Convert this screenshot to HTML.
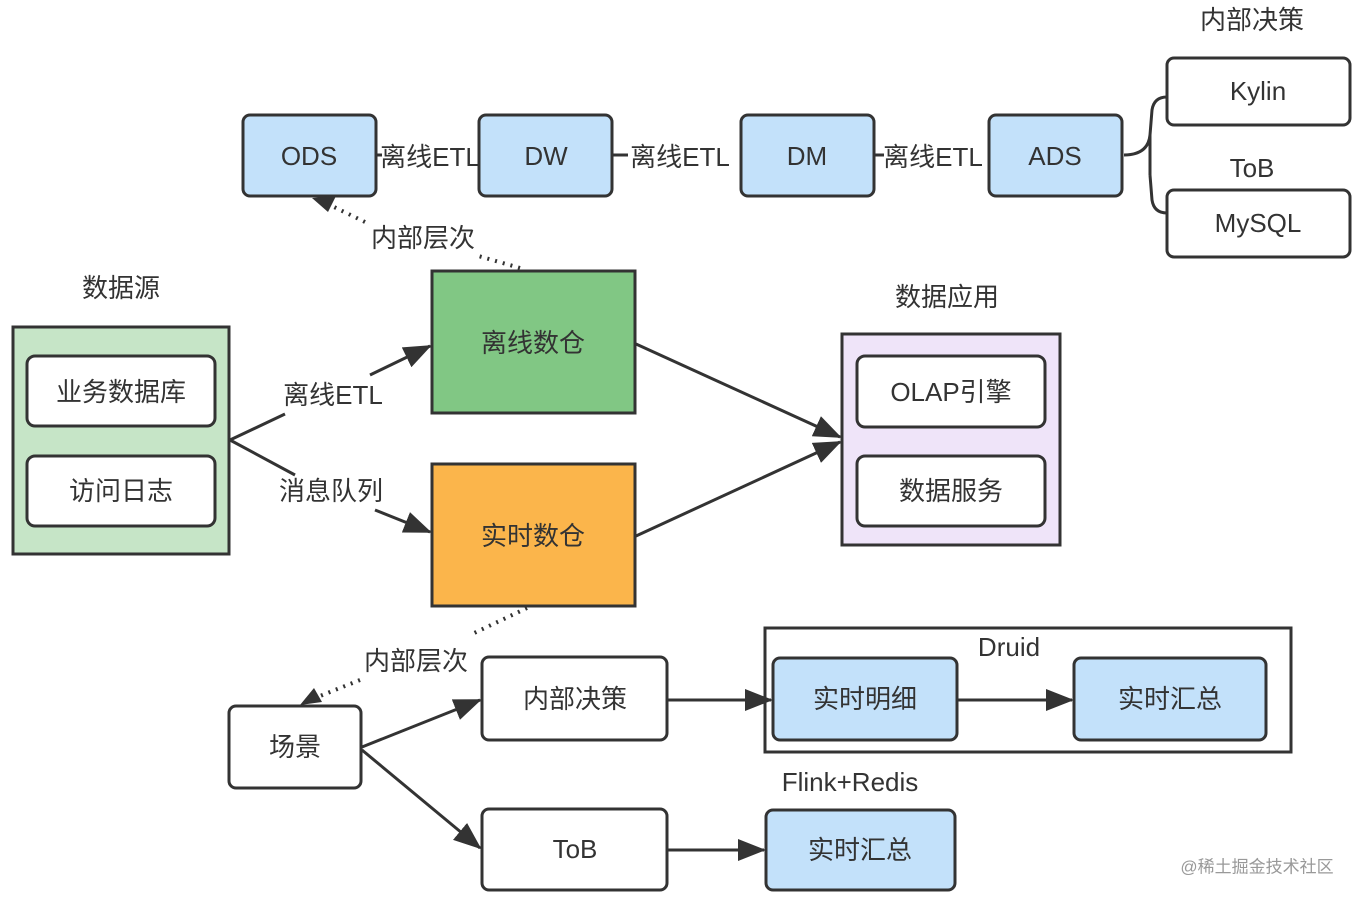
<!DOCTYPE html>
<html><head><meta charset="utf-8"><style>
html,body{margin:0;padding:0;background:#fff;}
svg text{font-family:"Liberation Sans","Noto Sans CJK SC",sans-serif;fill:#333;font-size:26px;text-anchor:middle;dominant-baseline:central;}
</style></head><body>
<svg width="1362" height="902" viewBox="0 0 1362 902" xmlns="http://www.w3.org/2000/svg">
<defs>
<marker id="a" markerWidth="10" markerHeight="10" refX="9" refY="5" orient="auto" markerUnits="userSpaceOnUse" viewBox="0 0 10 10"><path d="M0,0 L10,5 L0,10 z" fill="#333"/></marker>
<marker id="b" markerWidth="28" markerHeight="22" refX="26" refY="11" orient="auto" markerUnits="userSpaceOnUse" viewBox="0 0 28 22"><path d="M0,0 L28,11 L0,22 z" fill="#333"/></marker>
</defs>
<g stroke="#333" stroke-width="3">
<!-- top row -->
<rect x="243" y="115" width="133" height="81" rx="7" fill="#c3e1fa"/>
<rect x="479" y="115" width="133" height="81" rx="7" fill="#c3e1fa"/>
<rect x="741" y="115" width="133" height="81" rx="7" fill="#c3e1fa"/>
<rect x="989" y="115" width="133" height="81" rx="7" fill="#c3e1fa"/>
<rect x="1167" y="58" width="183" height="67" rx="7" fill="#fff"/>
<rect x="1167" y="190" width="183" height="67" rx="7" fill="#fff"/>
<path d="M1124,155 Q1148,155 1150,135 L1152,110 Q1154,97 1167,97 M1150,175 L1152,200 Q1154,213 1167,213 M1150,135 Q1150,155 1150,175" fill="none"/>
<line x1="376" y1="155" x2="382" y2="155"/>
<line x1="612" y1="155" x2="628" y2="155"/>
<line x1="874" y1="155" x2="884" y2="155"/>
<!-- sources -->
<rect x="13" y="327" width="216" height="227" fill="#c6e5c7"/>
<rect x="27" y="356" width="188" height="70" rx="8" fill="#fff"/>
<rect x="27" y="456" width="188" height="70" rx="8" fill="#fff"/>
<rect x="432" y="271" width="203" height="142" fill="#81c784"/>
<rect x="432" y="464" width="203" height="142" fill="#fbb54b"/>
<rect x="842" y="334" width="218" height="211" fill="#efe4f9"/>
<rect x="857" y="356" width="188" height="71" rx="8" fill="#fff"/>
<rect x="857" y="456" width="188" height="70" rx="8" fill="#fff"/>
<line x1="230" y1="440" x2="285" y2="414"/>
<line x1="370" y1="375" x2="430" y2="346" marker-end="url(#b)"/>
<line x1="230" y1="440" x2="295" y2="475"/>
<line x1="375" y1="510" x2="430" y2="532" marker-end="url(#b)"/>
<line x1="636" y1="344" x2="840" y2="437" marker-end="url(#b)"/>
<line x1="636" y1="536" x2="840" y2="442" marker-end="url(#b)"/>
<!-- bottom -->
<rect x="229" y="706" width="132" height="82" rx="7" fill="#fff"/>
<rect x="482" y="657" width="185" height="83" rx="7" fill="#fff"/>
<rect x="482" y="809" width="185" height="81" rx="7" fill="#fff"/>
<rect x="765" y="628" width="526" height="124" fill="#fff"/>
<rect x="773" y="658" width="184" height="82" rx="7" fill="#c3e1fa"/>
<rect x="1074" y="658" width="192" height="82" rx="7" fill="#c3e1fa"/>
<rect x="766" y="810" width="189" height="80" rx="7" fill="#c3e1fa"/>
<line x1="362" y1="747" x2="480" y2="700" marker-end="url(#b)"/>
<line x1="362" y1="750" x2="480" y2="848" marker-end="url(#b)"/>
<line x1="667" y1="700" x2="771" y2="700" marker-end="url(#b)"/>
<line x1="957" y1="700" x2="1072" y2="700" marker-end="url(#b)"/>
<line x1="667" y1="850" x2="764" y2="850" marker-end="url(#b)"/>
</g>
<g stroke="#333" stroke-width="4" stroke-dasharray="2 6" fill="none">
<line x1="520" y1="268" x2="475" y2="255"/>
<line x1="365" y1="222" x2="330" y2="205"/>
<line x1="527" y1="608" x2="470" y2="635"/>
<line x1="360" y1="680" x2="315" y2="698"/>
</g>
<path d="M312,198 L336,196 L328,212 z" fill="#333"/>
<path d="M300,705 L314,688 L322,702 z" fill="#333"/>
<text x="1252" y="20">内部决策</text>
<text x="1258" y="91">Kylin</text>
<text x="1252" y="168">ToB</text>
<text x="1258" y="223">MySQL</text>
<text x="309" y="156">ODS</text>
<text x="546" y="156">DW</text>
<text x="807" y="156">DM</text>
<text x="1055" y="156">ADS</text>
<text x="430" y="157">离线ETL</text>
<text x="680" y="157">离线ETL</text>
<text x="933" y="157">离线ETL</text>
<text x="423" y="238">内部层次</text>
<text x="121" y="288">数据源</text>
<text x="121" y="392">业务数据库</text>
<text x="121" y="491">访问日志</text>
<text x="333" y="395">离线ETL</text>
<text x="331" y="491">消息队列</text>
<text x="533" y="343">离线数仓</text>
<text x="533" y="536">实时数仓</text>
<text x="947" y="297">数据应用</text>
<text x="951" y="392">OLAP引擎</text>
<text x="951" y="491">数据服务</text>
<text x="416" y="661">内部层次</text>
<text x="295" y="747">场景</text>
<text x="575" y="699">内部决策</text>
<text x="575" y="849">ToB</text>
<text x="1009" y="647">Druid</text>
<text x="865" y="699">实时明细</text>
<text x="1170" y="699">实时汇总</text>
<text x="850" y="782">Flink+Redis</text>
<text x="860" y="850">实时汇总</text>
<text x="1257" y="867" style="font-size:17px;fill:#999">@稀土掘金技术社区</text>
</svg>
</body></html>
